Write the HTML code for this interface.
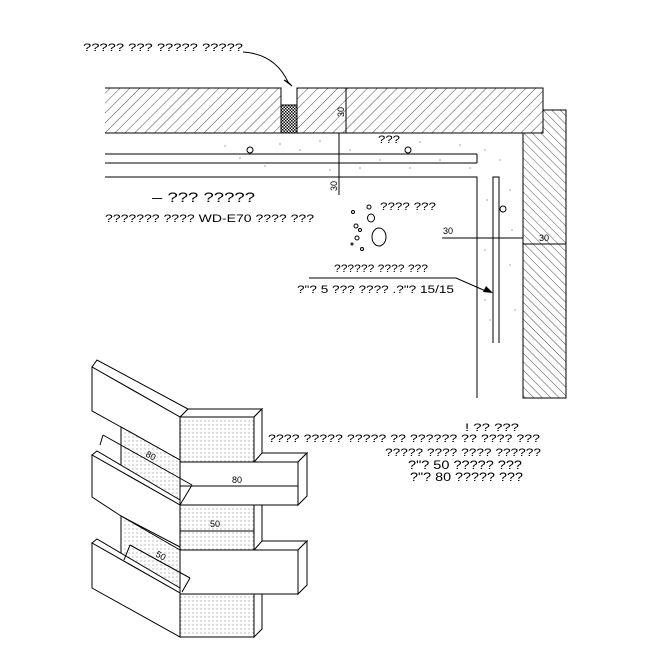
<!DOCTYPE html>
<html><head><meta charset="utf-8"><style>
html,body{margin:0;padding:0;background:#fff;}
svg{display:block;font-family:"Liberation Sans",sans-serif;}
</style></head><body>
<svg width="650" height="645" viewBox="0 0 650 645" xmlns="http://www.w3.org/2000/svg">
<defs>
<pattern id="h1" width="7" height="7" patternUnits="userSpaceOnUse" patternTransform="rotate(45)"><line x1="0" y1="0" x2="0" y2="7" stroke="#000" stroke-width="0.7"/></pattern>
<pattern id="h2" width="6" height="6" patternUnits="userSpaceOnUse" patternTransform="rotate(-45)"><line x1="0" y1="0" x2="0" y2="6" stroke="#000" stroke-width="0.7"/></pattern>
<pattern id="cx" width="3" height="3" patternUnits="userSpaceOnUse"><rect width="3" height="3" fill="#fff"/><rect width="1.5" height="1.5" fill="#000"/><rect x="1.5" y="1.5" width="1.5" height="1.5" fill="#000"/></pattern>
<pattern id="dt" width="4" height="4" patternUnits="userSpaceOnUse"><rect width="4" height="4" fill="#fff"/><circle cx="1" cy="1" r="0.5" fill="#555"/></pattern>
</defs>
<g fill="none" stroke="#000" stroke-width="1">
<path d="M105,88 H281 V105 Q289,112 297,105 V88 H543 V133 H105" fill="url(#h1)"/>
<rect x="281" y="105" width="16" height="28" fill="url(#cx)"/>
<line x1="346" y1="88" x2="346" y2="133"/>
<path d="M543,110 H566 V398 H523 V133 H543 Z" fill="url(#h2)"/>
<line x1="105" y1="154" x2="477" y2="154"/>
<line x1="105" y1="163" x2="477" y2="163"/>
<line x1="477" y1="154" x2="477" y2="163"/>
<path d="M105,177 H477 V398"/>
<path d="M493,343 V177 H499 V343"/>
<line x1="339" y1="133" x2="339" y2="195"/>
<line x1="442" y1="238" x2="523" y2="238"/>
<line x1="523" y1="244" x2="566" y2="244"/>
<path d="M243,52 Q275,54 288,82"/>
<path d="M309,278 H456 L488,292"/>
<circle cx="250" cy="150" r="3"/><circle cx="408" cy="150" r="3"/><circle cx="503" cy="209" r="3"/>
<ellipse cx="379" cy="237" rx="7" ry="9"/><ellipse cx="371" cy="218" rx="3.5" ry="4"/>
<circle cx="369" cy="207" r="2"/><circle cx="353" cy="212" r="1.5"/><circle cx="356" cy="226" r="2"/><circle cx="357" cy="238" r="2"/><circle cx="362" cy="249" r="1.5"/><circle cx="352" cy="244" r="1"/><circle cx="360" cy="230" r="1.5"/>
</g>
<path d="M288,82 L292,86 L284,80 Z" stroke="#000" fill="#000"/>
<path d="M493,293 L483,292 L486,286 Z" fill="#000"/>
<g fill="#666">
<circle cx="225" cy="146" r=".6"/><circle cx="240" cy="158" r=".6"/><circle cx="280" cy="144" r=".6"/><circle cx="300" cy="150" r=".6"/><circle cx="320" cy="141" r=".6"/><circle cx="350" cy="150" r=".6"/><circle cx="360" cy="168" r=".6"/><circle cx="380" cy="160" r=".6"/><circle cx="420" cy="142" r=".6"/><circle cx="440" cy="160" r=".6"/><circle cx="460" cy="145" r=".6"/><circle cx="470" cy="168" r=".6"/><circle cx="485" cy="150" r=".6"/><circle cx="500" cy="160" r=".6"/><circle cx="510" cy="190" r=".6"/><circle cx="487" cy="200" r=".6"/><circle cx="512" cy="230" r=".6"/><circle cx="485" cy="250" r=".6"/><circle cx="510" cy="265" r=".6"/><circle cx="485" cy="300" r=".6"/><circle cx="515" cy="310" r=".6"/><circle cx="490" cy="320" r=".6"/><circle cx="265" cy="166" r=".6"/><circle cx="330" cy="170" r=".6"/><circle cx="410" cy="168" r=".6"/>
</g>
<g font-size="11" fill="#000" lengthAdjust="spacingAndGlyphs">
<text x="83" y="51" textLength="160" lengthAdjust="spacingAndGlyphs">????? ??? ????? ?????</text>
<text x="378" y="143" textLength="22" lengthAdjust="spacingAndGlyphs">???</text>
<text x="152" y="202" font-size="14" textLength="103" lengthAdjust="spacingAndGlyphs">– ??? ?????</text>
<text x="105" y="222" textLength="209" lengthAdjust="spacingAndGlyphs">??????? ???? WD-E70 ???? ???</text>
<text x="380" y="210" textLength="56" lengthAdjust="spacingAndGlyphs">???? ???</text>
<text x="334" y="272" textLength="94" lengthAdjust="spacingAndGlyphs">?????? ???? ???</text>
<text x="297" y="293" textLength="157" lengthAdjust="spacingAndGlyphs">?"? 5 ??? ???? .?"? 15/15</text>
<text x="443" y="234" font-size="9">30</text>
<text x="539" y="241" font-size="9">30</text>
<text font-size="9" transform="translate(337,191) rotate(-90)">30</text>
<text font-size="9" transform="translate(344,117) rotate(-90)">30</text>
<text x="465" y="431" textLength="54" lengthAdjust="spacingAndGlyphs">! ?? ???</text>
<text x="268" y="442" textLength="272" lengthAdjust="spacingAndGlyphs">???? ????? ????? ?? ?????? ?? ???? ???</text>
<text x="385" y="456" textLength="156" lengthAdjust="spacingAndGlyphs">????? ???? ???? ??????</text>
<text x="408" y="469" font-size="12" textLength="114" lengthAdjust="spacingAndGlyphs">?"? 50 ????? ???</text>
<text x="410" y="481" font-size="12" textLength="113" lengthAdjust="spacingAndGlyphs">?"? 80 ????? ???</text>
</g>
<g stroke="#000" stroke-width="1">
<rect x="180" y="417" width="74" height="220" fill="url(#dt)"/>
<polygon points="180,417 188,409 262,409 254,417" fill="#fff"/>
<polygon points="254,417 262,409 262,629 254,637" fill="#fff"/>
<polygon points="92,367 97,360 188,409 180,417" fill="#fff"/>
<polygon points="92,367 180,417 180,460 121,427 92,411" fill="#fff"/>
<line x1="121" y1="427" x2="121" y2="472"/>
<polygon points="121,427 180,460 180,505 121,472" fill="url(#dt)"/>
<polygon points="92,455 97,451 180,500 180,505" fill="#fff"/>
<polygon points="92,455 180,505 180,547 121,516 92,497" fill="#fff"/>
<line x1="121" y1="516" x2="121" y2="560"/>
<polygon points="121,516 180,550 180,594 121,560" fill="url(#dt)"/>
<polygon points="92,543 97,539 180,588 180,593" fill="#fff"/>
<polygon points="92,543 180,593 180,637 92,588" fill="#fff"/>
<polygon points="180,462 298,462 298,505 180,505" fill="#fff"/>
<polygon points="254,462 262,453 307,453 298,462" fill="#fff"/>
<polygon points="298,462 307,453 307,496 298,505" fill="#fff"/>
<polygon points="180,550 298,550 298,594 180,594" fill="#fff"/>
<polygon points="254,550 262,541 307,541 298,550" fill="#fff"/>
<polygon points="298,550 307,541 307,585 298,594" fill="#fff"/>
<line x1="180" y1="486" x2="298" y2="486"/>
<line x1="180" y1="531" x2="254" y2="531"/>
<path d="M103,435 L192,485 M100,445 L103,435 M180,505 L192,485" fill="none"/>
<path d="M130,545 L190,578 M124,560 L130,545 M182,592 L190,578" fill="none"/>
</g>
<g font-size="9" fill="#000">
<text x="232" y="483">80</text>
<text x="210" y="527">50</text>
<text transform="translate(145,456) rotate(28)">80</text>
<text transform="translate(155,556) rotate(28)">50</text>
</g>
</svg>
</body></html>
